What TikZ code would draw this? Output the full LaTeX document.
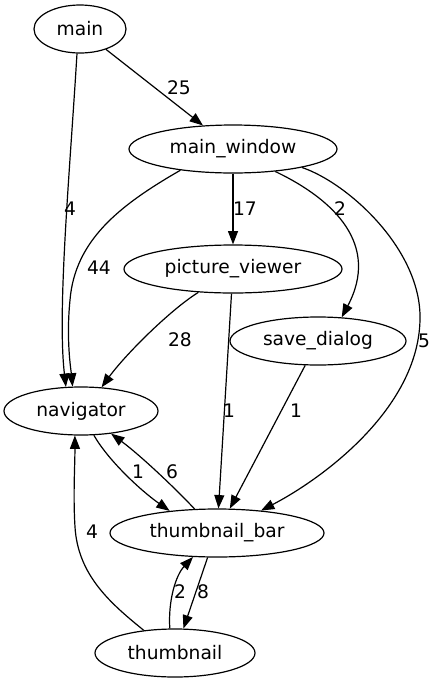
\documentclass[tikz,border=0pt]{standalone}
\usepackage{fontspec}
\setmainfont{DejaVu Sans}
\usetikzlibrary{shapes.geometric,arrows.meta}
\begin{document}
\begin{tikzpicture}[x=0.75pt,y=-0.75pt,
  every node/.style={font=\fontsize{14}{16}\selectfont},
  gnode/.style={ellipse,draw,line width=0.9pt,inner sep=0pt,minimum height=36pt},
  edge/.style={line width=0.9pt,-{Triangle[length=10pt,width=7.5pt]}},
  lbl/.style={inner sep=0pt}]
\useasboundingbox (0,0) rectangle (435,683);
\node[gnode,minimum width=69pt] (main) at (80,29) {main};
\node[gnode,minimum width=156pt] (mw) at (233,149) {main\_window};
\node[gnode,minimum width=163.5pt] (pv) at (233,269) {picture\_viewer};
\node[gnode,minimum width=132pt] (sd) at (318,341) {save\_dialog};
\node[gnode,minimum width=115.5pt] (nav) at (81,411) {navigator};
\node[gnode,minimum width=160.5pt] (tb) at (217,533) {thumbnail\_bar};
\node[gnode,minimum width=120pt] (th) at (175,653) {thumbnail};
% edges
\draw[edge] (main) -- (mw);
\node[lbl] (l1) at (179,88) {25};
\draw[edge] (main.263) .. controls (70,170) and (57,310) .. (nav.122);
\node[lbl] (l2) at (70,209) {4};
\draw[edge] (mw.202) .. controls (120,205) and (75,240) .. (70,300) .. controls (66,340) and (71,370) .. (nav.109);
\node[lbl] (l3) at (99,268) {44};
\draw[edge] (mw) -- (pv);
\node[lbl] (l4) at (245,209) {17};
\draw[edge] (mw.-28) .. controls (335,200) and (380,245) .. (sd.45);
\node[lbl] (l5) at (340,209) {2};
\draw[edge] (mw.-15) .. controls (348,183) and (422,250) .. (420,320) .. controls (418,410) and (320,480) .. (tb.27);
\node[lbl] (l6) at (424,341) {5};
\draw[edge] (pv.214) .. controls (170,310) and (125,355) .. (nav.49);
\node[lbl] (l7) at (180,340) {28};
\draw[edge] (pv) -- (tb);
\node[lbl] (l8) at (229,411) {1};
\draw[edge] (sd) -- (tb);
\node[lbl] (l9) at (296,411) {1};
\draw[edge] (nav.-62) .. controls (108,460) and (140,490) .. (tb.155);
\node[lbl] (l10) at (138,472) {1};
\draw[edge] (tb.133) .. controls (175,488) and (140,455) .. (nav.-37);
\node[lbl] (l11) at (172,472) {6};
\draw[edge] (th.144) .. controls (110,603) and (78,575) .. (75,527) .. controls (73,495) and (75,465) .. (nav.256);
\node[lbl] (l12) at (92,532) {4};
\draw[edge] (th.102) .. controls (168,600) and (176,575) .. (tb.225);
\node[lbl] (l13) at (180,592) {2};
\draw[edge] (tb.249) -- (th.71);
\node[lbl] (l14) at (203,592) {8};
\end{tikzpicture}
\end{document}
